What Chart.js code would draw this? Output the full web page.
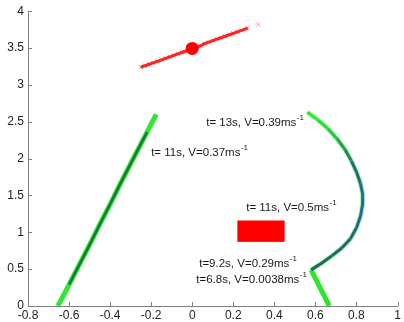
<!DOCTYPE html>
<html>
<head>
<meta charset="utf-8">
<script src="https://cdn.jsdelivr.net/npm/chart.js@4/dist/chart.umd.min.js"></script>
<style>
html,body{margin:0;padding:0;background:#fff;}
#wrap{width:404px;height:322px;}
</style>
</head>
<body>
<div id="wrap"><canvas id="c" width="404" height="322"></canvas></div>
<script>
// ---- data ----
const xTicks = [-0.8, -0.6, -0.4, -0.2, 0, 0.2, 0.4, 0.6, 0.8, 1];
const xTickLabels = ['-0.8', '-0.6', '-0.4', '-0.2', '0', '0.2', '0.4', '0.6', '0.8', '1'];
const yTicks = [0, 0.5, 1, 1.5, 2, 2.5, 3, 3.5, 4];
const yTickLabels = ['0', '0.5', '1', '1.5', '2', '2.5', '3', '3.5', '4'];

// left track
const leftX = [-0.655, -0.62, -0.60, -0.55, -0.50, -0.45, -0.40, -0.35, -0.30, -0.25, -0.22, -0.20, -0.175];
const leftY = [0.00, 0.18, 0.29, 0.56, 0.83, 1.11, 1.38, 1.66, 1.93, 2.20, 2.36, 2.47, 2.60];

// right track (bottom -> kink -> curve -> top)
const rightX = [0.668, 0.579, 0.63, 0.68, 0.73, 0.77, 0.80, 0.82, 0.83, 0.83, 0.82, 0.80, 0.775, 0.745, 0.705, 0.66, 0.61, 0.56];
const rightY = [0.00, 0.49, 0.58, 0.68, 0.79, 0.91, 1.06, 1.22, 1.38, 1.52, 1.66, 1.82, 1.97, 2.12, 2.27, 2.41, 2.53, 2.63];

// red scatter
const redX = [-0.25, -0.23, -0.21, -0.19, -0.17, -0.15, -0.13, -0.11, -0.09, -0.07, -0.05, -0.04, -0.02, 0.02, 0.04, 0.06, 0.08, 0.10, 0.12, 0.14, 0.16, 0.18, 0.20, 0.22, 0.24, 0.27];
const redY = [3.24, 3.26, 3.28, 3.30, 3.32, 3.34, 3.36, 3.38, 3.40, 3.42, 3.44, 3.45, 3.47, 3.51, 3.53, 3.56, 3.58, 3.60, 3.62, 3.64, 3.66, 3.68, 3.70, 3.72, 3.74, 3.77];
const redFarX = [0.322];
const redFarY = [3.82];
const dotX = [0.0];
const dotY = [3.495];

// red rectangle
const rectX = [0.22, 0.45];
const rectY = [0.87, 1.16];

// annotations
const annMain = ['t= 13s, V=0.39ms', 't= 11s, V=0.37ms', 't= 11s, V=0.5ms', 't=9.2s, V=0.29ms', 't=6.8s, V=0.0038ms'];
const annSup = ['-1', '-1', '-1', '-1', '-1'];
const annX = [0.068, -0.2, 0.263, 0.034, 0.02];
const annY = [2.485, 2.075, 1.338, 0.573, 0.355];

// ---- helpers ----
const pts = (xs, ys) => xs.map((x, i) => ({x: x, y: ys[i]}));
const rightCoreColors = ['#2ee62e', '#1b6a5c', '#1b6a5c', '#1c6a60', '#1d6a66', '#1f6a74', '#226a88', '#25699a', '#25699a', '#246c8c', '#1f7070', '#1e7660', '#20884c', '#23a640', '#28c83a', '#2edc34', '#33ea33'];

const tickPlugin = {
  id: 'extras',
  beforeDatasetsDraw(chart) {
    const ctx = chart.ctx, xs = chart.scales.x, ys = chart.scales.y;
    ctx.save();
    const x0 = xs.getPixelForValue(rectX[0]), x1 = xs.getPixelForValue(rectX[1]);
    const y0 = ys.getPixelForValue(rectY[1]), y1 = ys.getPixelForValue(rectY[0]);
    ctx.fillStyle = '#ff0000';
    ctx.fillRect(x0, y0, x1 - x0, y1 - y0);
    ctx.restore();
  },
  afterDraw(chart) {
    const ctx = chart.ctx, xs = chart.scales.x, ys = chart.scales.y;
    const a = chart.chartArea;
    ctx.save();
    ctx.strokeStyle = '#808080';
    ctx.lineWidth = 1;
    ctx.beginPath();
    xTicks.forEach(v => {
      const p = Math.round(xs.getPixelForValue(v)) + 0.5;
      ctx.moveTo(p, a.bottom); ctx.lineTo(p, a.bottom - 4);
    });
    yTicks.forEach(v => {
      const p = Math.round(ys.getPixelForValue(v)) + 0.5;
      ctx.moveTo(a.left, p); ctx.lineTo(a.left + 4, p);
    });
    ctx.stroke();
    ctx.fillStyle = '#1a1a1a';
    ctx.textBaseline = 'middle';
    ctx.textAlign = 'left';
    annMain.forEach((t, i) => {
      const px = xs.getPixelForValue(annX[i]);
      const py = ys.getPixelForValue(annY[i]);
      ctx.font = '11.5px "Liberation Sans", Arial, sans-serif';
      ctx.fillText(t, px, py);
      const w = ctx.measureText(t).width;
      ctx.font = '8px "Liberation Sans", Arial, sans-serif';
      ctx.fillText(annSup[i], px + w + 0.5, py - 5);
    });
    ctx.restore();
  }
};

const chart = new Chart(document.getElementById('c'), {
  type: 'scatter',
  data: {
    datasets: [
      {
        data: pts(dotX, dotY), showLine: false,
        pointRadius: 6.5, pointBackgroundColor: '#ff0000', pointBorderColor: '#ff0000', pointBorderWidth: 0, order: 0
      },
      {
        data: pts(redX, redY), showLine: true, borderColor: 'rgba(255,0,0,0.85)', borderWidth: 3,
        pointStyle: 'crossRot', pointRadius: 3, pointBorderColor: 'rgba(255,30,30,0.6)', pointBorderWidth: 1,
        pointBackgroundColor: 'rgba(0,0,0,0)', order: 1
      },
      {
        data: pts(redFarX, redFarY), showLine: false,
        pointStyle: 'crossRot', pointRadius: 3, pointBorderColor: 'rgba(255,60,60,0.5)', pointBorderWidth: 1, order: 1
      },
      {
        data: pts(leftX.slice(2, 11), leftY.slice(2, 11)), showLine: true,
        borderColor: '#127a36', borderWidth: 2.5, pointRadius: 0, order: 2
      },
      {
        data: pts(leftX, leftY), showLine: true,
        borderColor: '#33e633', borderWidth: 5, pointRadius: 0, order: 5
      },
      {
        data: pts(rightX, rightY), showLine: true, borderWidth: 3, pointRadius: 0, order: 2,
        borderColor: '#1b6a5c',
        segment: { borderColor: c => rightCoreColors[c.p0DataIndex], borderWidth: c => c.p0DataIndex === 0 ? 5 : 3 }
      },
      {
        data: pts(rightX.slice(1), rightY.slice(1)), showLine: true,
        borderColor: 'rgba(60,220,80,0.4)', borderWidth: 5, pointRadius: 0, order: 5
      }
    ]
  },
  options: {
    responsive: false,
    animation: false,
    devicePixelRatio: 1,
    layout: { padding: { left: 0, right: 6, top: 11, bottom: 0 } },
    plugins: { legend: { display: false }, tooltip: { enabled: false } },
    elements: { line: { tension: 0 } },
    scales: {
      x: {
        type: 'linear', min: -0.8, max: 1,
        afterBuildTicks: s => { s.ticks = xTicks.map(v => ({value: v})); },
        afterFit: s => { s.height = 16; },
        grid: { display: true, drawOnChartArea: false, drawTicks: false },
        border: { display: true, color: '#808080', width: 1 },
        ticks: {
          padding: 2, color: '#222', font: { family: '"Liberation Sans", Arial, sans-serif', size: 12 },
          callback: (v, i) => xTickLabels[i], maxRotation: 0, autoSkip: false
        }
      },
      y: {
        type: 'linear', min: 0, max: 4,
        afterBuildTicks: s => { s.ticks = yTicks.map(v => ({value: v})); },
        afterFit: s => { s.width = 28; },
        grid: { display: true, drawOnChartArea: false, drawTicks: false },
        border: { display: true, color: '#808080', width: 1 },
        ticks: {
          padding: 4, color: '#222', font: { family: '"Liberation Sans", Arial, sans-serif', size: 12 },
          callback: (v, i) => yTickLabels[i], autoSkip: false
        }
      }
    }
  },
  plugins: [tickPlugin]
});
</script>
</body>
</html>
